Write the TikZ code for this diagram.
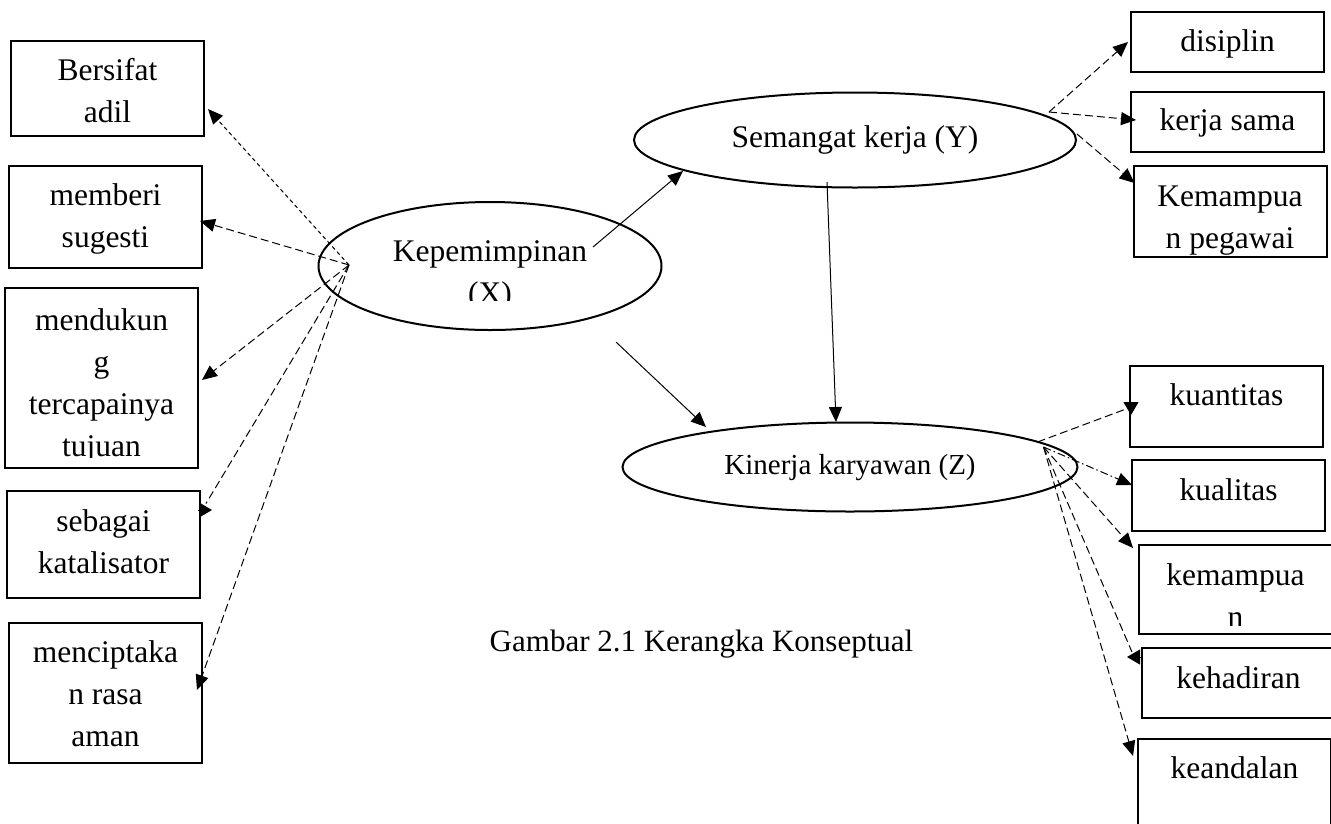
\documentclass[tikz,border=0pt]{standalone}
\usepackage{fontspec}
\setmainfont{Liberation Serif}
\usetikzlibrary{arrows.meta,shapes.geometric,calc}

\begin{document}
\begin{tikzpicture}[x=1pt,y=-1pt,
  box/.style={draw,line width=2pt,rectangle,inner sep=0pt,outer sep=0pt,minimum width=193pt},
  oval/.style={draw,line width=2pt,ellipse,inner sep=0pt,outer sep=0pt},
  lbl/.style={anchor=base,align=center,inner sep=0pt,font=\fontsize{31.5}{42}\selectfont},
  link/.style={line width=1pt,-{Triangle[length=15pt,width=13pt]}},
  ind/.style={link,dash pattern=on 8pt off 4pt},
  indplain/.style={line width=1pt,dash pattern=on 8pt off 4pt},
  tiponly/.style={line width=1pt,-{Triangle[length=13pt,width=15pt]}},
  indfine/.style={link,dash pattern=on 4pt off 3pt},
  inddot/.style={link,dash pattern=on 8pt off 3pt on 1.5pt off 3pt}]

\path[use as bounding box,fill=white] (0,0) rectangle (1331,823);
\clip (0,0) rectangle (1331,823);

% ---- latent variables ----
\node[oval,minimum width=343pt,minimum height=128pt] (kep) at (490,266) {};
\node[oval,minimum width=442pt,minimum height=95pt] (sem) at (855,140) {};
\node[oval,minimum width=455pt,minimum height=89pt] (kin) at (850,467) {};

% multi-line labels are anchored at the baseline of their last line (42pt per line)
\begin{scope}
  \clip (kep.west |- kep.north) rectangle ($(kep.east |- kep.south)+(0,-30)$);
  \node[lbl] (kep-t) at ([shift={(0,37)}]kep.center) {Kepemimpinan\\(X)};
\end{scope}
\node[lbl] (sem-t) at ([shift={(0,7)}]sem.center) {Semangat kerja (Y)};
\node[lbl,font=\fontsize{29}{40}\selectfont] (kin-t) at ([shift={(0,7)}]kin.center) {Kinerja karyawan (Z)};

% ---- indicators of leadership (left) ----
\node[box,minimum height=95pt]  (bers) at (107.5,88.5) {};
\node[box,minimum height=102pt] (memb) at (105.5,217) {};
\node[box,minimum height=180pt] (mend) at (101.5,378) {};
\node[box,minimum height=107pt] (seba) at (103.5,544.5) {};
\node[box,minimum height=140pt] (menc) at (105.5,693) {};

\node[lbl] (bers-t) at ([shift={(0,81.5)}]bers.north) {Bersifat\\adil};
\node[lbl] (memb-t) at ([shift={(0,81)}]memb.north) {memberi\\sugesti};
\begin{scope}
  \clip (mend.north west) rectangle ([shift={(0,-11)}]mend.south east);
  \node[lbl] (mend-t) at ([shift={(0,168)}]mend.north) {mendukun\\g\\tercapainya\\tujuan};
\end{scope}
\node[lbl] (seba-t) at ([shift={(0,82)}]seba.north) {sebagai\\katalisator};
\node[lbl] (menc-t) at ([shift={(0,123)}]menc.north) {menciptaka\\n rasa\\aman};

% ---- indicators of work spirit (upper right) ----
\node[box,minimum height=60pt] (disi) at (1227.5,42) {};
\node[box,minimum height=60pt] (kerj) at (1227.5,122) {};
\node[box,minimum height=91pt] (kemp) at (1230,211.5) {};

\node[lbl] (disi-t) at ([shift={(0,39.5)}]disi.north) {disiplin};
\node[lbl] (kerj-t) at ([shift={(0,38.5)}]kerj.north) {kerja sama};
\node[lbl] (kemp-t) at ([shift={(0,82.5)}]kemp.north) {Kemampua\\n pegawai};

% ---- indicators of performance (lower right) ----
\node[box,minimum height=81pt] (kuan) at (1226.5,406.5) {};
\node[box,minimum height=71pt] (kual) at (1228.5,495.5) {};
\node[box,minimum height=89pt] (kema) at (1235.5,589.5) {};
\node[box,minimum height=70pt] (kehd) at (1238.5,683) {};
\node[box,minimum height=96pt] (kean) at (1234.5,787) {};

\node[lbl] (kuan-t) at ([shift={(0,39)}]kuan.north) {kuantitas};
\node[lbl] (kual-t) at ([shift={(0,40)}]kual.north) {kualitas};
\begin{scope}
  \clip (kema.north west) rectangle ([shift={(0,-9)}]kema.south east);
  \node[lbl] (kema-t) at ([shift={(0,82)}]kema.north) {kemampua\\n};
\end{scope}
\node[lbl] (kehd-t) at ([shift={(0,40)}]kehd.north) {kehadiran};
\node[lbl] (kean-t) at ([shift={(0,39)}]kean.north) {keandalan};

% ---- caption ----
\node[anchor=base,inner sep=0pt,font=\fontsize{31}{42}\selectfont] (cap) at (701.5,651) {Gambar 2.1 Kerangka Konseptual};

% ---- structural paths ----
\draw[link] ([shift={(103,-19)}]kep.center) -- ([shift={(-172,31)}]sem.center);
\draw[link] ([shift={(126,76)}]kep.center) -- ([shift={(-144,-40)}]kin.center);
\draw[link] ([shift={(-28,42)}]sem.center) -- ([shift={(-14,-45)}]kin.center);

% ---- measurement paths ----
\coordinate (kx)  at ([shift={(-141,-1)}]kep.center);
\coordinate (sx)  at ([shift={(-27,-28)}]sem.east);
\coordinate (sx2) at ([shift={(1,-6)}]sem.east);
\coordinate (zx)  at ([shift={(-40,-25)}]kin.east);
\coordinate (zx2) at ([shift={(-34,-20)}]kin.east);

\draw[indfine] (kx) -- ([shift={(4,20.5)}]bers.east);
\draw[ind] (kx) -- ([shift={(-2,4)}]memb.east);
\draw[ind] (kx) -- ([shift={(4,2)}]mend.east);
\draw[indplain] (kx) -- ([shift={(6,-41)}]seba.east);
\draw[tiponly] ([shift={(-2,-34.5)}]seba.east) -- ([shift={(12,-34.5)}]seba.east);
\draw[ind] (kx) -- ([shift={(-5,-3)}]menc.east);

\draw[ind] (sx) -- ([shift={(-3,0)}]disi.west);
\draw[ind] (sx) -- ([shift={(5,-2)}]kerj.west);
\draw[ind] (sx2) -- ([shift={(1,-28.5)}]kemp.west);

\draw[indplain] (zx) -- ([shift={(-4,2.5)}]kuan.west);
\draw[tiponly] ([shift={(1,-4.5)}]kuan.west) -- ([shift={(1,8.5)}]kuan.west);
\draw[inddot] (zx2) -- ([shift={(0,-10.5)}]kual.west);
\draw[ind] (zx2) -- ([shift={(-6,-41.5)}]kema.west);
\draw[indplain] (zx2) -- ([shift={(-10,-31)}]kehd.west);
\draw[tiponly] ([shift={(-2,-26)}]kehd.west) -- ([shift={(-15,-26)}]kehd.west);
\draw[ind] (zx2) -- ([shift={(-5,-31)}]kean.west);
\end{tikzpicture}
\end{document}
